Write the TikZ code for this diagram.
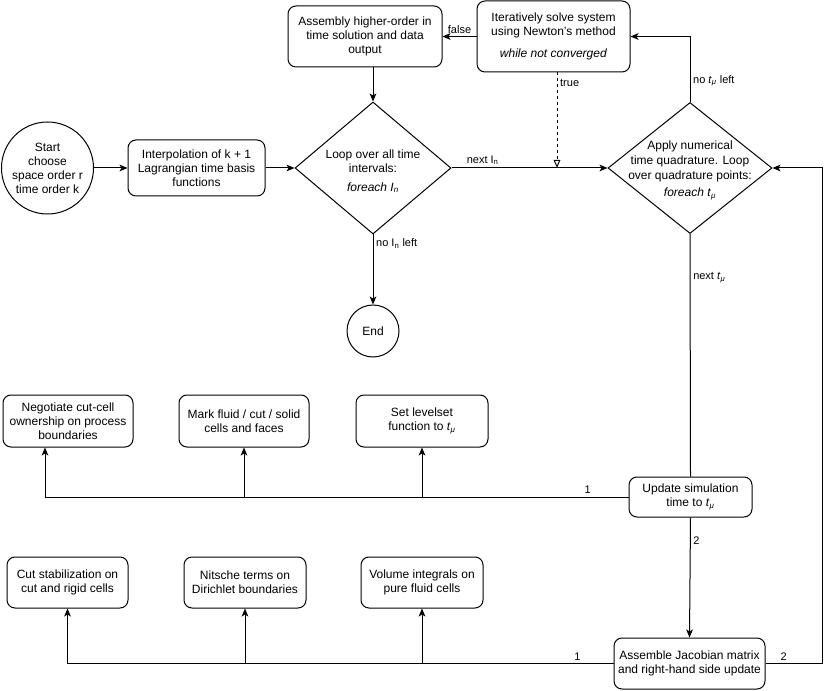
\documentclass[tikz,border=0pt]{standalone}
\usepackage{fontspec}
\setmainfont{Liberation Sans}
\usetikzlibrary{positioning,shapes.geometric,arrows.meta}

\newcommand{\tmu}{\textit{t}\textsubscript{\textit{μ}}}
\newcommand{\Itn}{I\textsubscript{n}}

\begin{document}
\begin{tikzpicture}[x=0.75pt,y=-0.75pt,->,>={Stealth[length=6pt,width=5pt,inset=1.5pt]},
                    line width=0.75pt,
                    txt/.style={align=center,font=\fontsize{9}{10.5}\selectfont},
                    box/.style={txt,draw,rectangle,rounded corners=6pt,inner sep=2pt},
                    decision/.style={draw,diamond,inner sep=0pt,minimum width=#1},
                    terminal/.style={txt,draw,circle,inner sep=0pt},
                    lbl/.style={font=\fontsize{8.25}{9.5}\selectfont,inner sep=2pt}]

  \useasboundingbox (0,0) rectangle (831,691);

  % main loop
  \node[terminal,minimum size=69pt] (start) at (47.5,168)
        {Start\\choose\\space order r\\time order k};
  \node[box,minimum width=102.75pt,minimum height=42pt] (interp) at (196.5,168)
        {Interpolation of k + 1\\Lagrangian time basis\\functions};
  \node[decision=117pt,minimum height=99pt] (loop) at (373,168) {};
  \node[txt] (looptxt) at (373,171)
        {Loop over all time\\intervals:\\[4pt]\textit{foreach I\textsubscript{n}}};
  \node[terminal,minimum size=39pt] (end) [below = 52.5pt of loop] {End};

  \node[box,minimum width=115.5pt,minimum height=45.75pt] (assembly) at (365,36.5)
        {Assembly higher-order in\\time solution and data\\output};
  \node[box,minimum width=114.75pt,minimum height=53.25pt] (iter) at (553.5,36.5)
        {Iteratively solve system\\using Newton's method\\[6pt]\textit{while not converged}};

  \node[decision=123pt,minimum height=98.25pt] (quad) at (690,168) {};
  \node[txt,font=\fontsize{9}{11.25}\selectfont] (quadtxt) at (690,170)
        {Apply numerical\\time quadrature. Loop\\over quadrature points:\\[2pt]\textit{foreach} \tmu};

  % inner steps
  \node[box,minimum width=92.25pt,minimum height=30pt] (update) at (690.5,497)
        {Update simulation\\time to \tmu};
  \node[box,minimum width=113.25pt,minimum height=38.25pt] (assemble) at (689.5,663.5)
        {Assemble Jacobian matrix\\and right-hand side update};

  \node[box,minimum width=97.5pt,minimum height=39pt] (negotiate) at (68,421)
        {Negotiate cut-cell\\ownership on process\\boundaries};
  \node[box,minimum width=97.5pt,minimum height=39pt] (mark) [right = 33.75pt of negotiate]
        {Mark fluid / cut / solid\\cells and faces};
  \node[box,minimum width=99pt,minimum height=39pt] (levelset) [right = 34.5pt of mark]
        {Set levelset\\function to \tmu};

  \node[box,minimum width=90.75pt,minimum height=38.25pt] (cutstab) at (67.5,582.5)
        {Cut stabilization on\\cut and rigid cells};
  \node[box,minimum width=91.5pt,minimum height=38.25pt] (nitsche) [right = 41.25pt of cutstab]
        {Nitsche terms on\\Dirichlet boundaries};
  \node[box,minimum width=91.5pt,minimum height=38.25pt] (volume) [right = 40.5pt of nitsche]
        {Volume integrals on\\pure fluid cells};

  \coordinate (truein) at (557,168);
  \coordinate (rail)   at (822,0);

  % connectors
  \draw (start) -- (interp);
  \draw (interp) -- (loop);
  \draw (loop.north |- assembly.south) -- (loop.north);
  \draw (loop.east) -- node[lbl,pos=0.2,above] {next \Itn} (quad.west);
  \draw (loop.south) -- node[lbl,pos=0.13,right] {no \Itn{} left} (end);
  \draw (iter.west) -- node[lbl,above] {false} (assembly.east);
  \draw (quad.north) |- node[lbl,pos=0.16,right] {no \tmu{} left} (iter.east);
  \draw[dashed,dash pattern=on 2.25pt off 2.25pt,-{Triangle[open,length=6pt,width=5pt]}]
        (iter.south -| truein) -- node[lbl,pos=0.11,right] {true} (truein);
  \draw[-] (quad.south) -- node[lbl,pos=0.18,right] {next \tmu} (update.north);

  \draw (update.west) -| node[lbl,pos=0.035,above] {1} ([xshift=-17.25pt]negotiate.south);
  \draw (mark.south |- update.west) -- (mark.south);
  \draw (levelset.south |- update.west) -- (levelset.south);

  \draw (update.south) -- node[lbl,pos=0.19,right] {2} (assemble.north);

  \draw (assemble.west) -| node[lbl,pos=0.033,above] {1} (cutstab.south);
  \draw (nitsche.south |- assemble.west) -- (nitsche.south);
  \draw (volume.south |- assemble.west) -- (volume.south);

  \draw (assemble.east) -| node[lbl,pos=0.16,above] {2} (rail |- quad.east) -- (quad.east);
\end{tikzpicture}
\end{document}
